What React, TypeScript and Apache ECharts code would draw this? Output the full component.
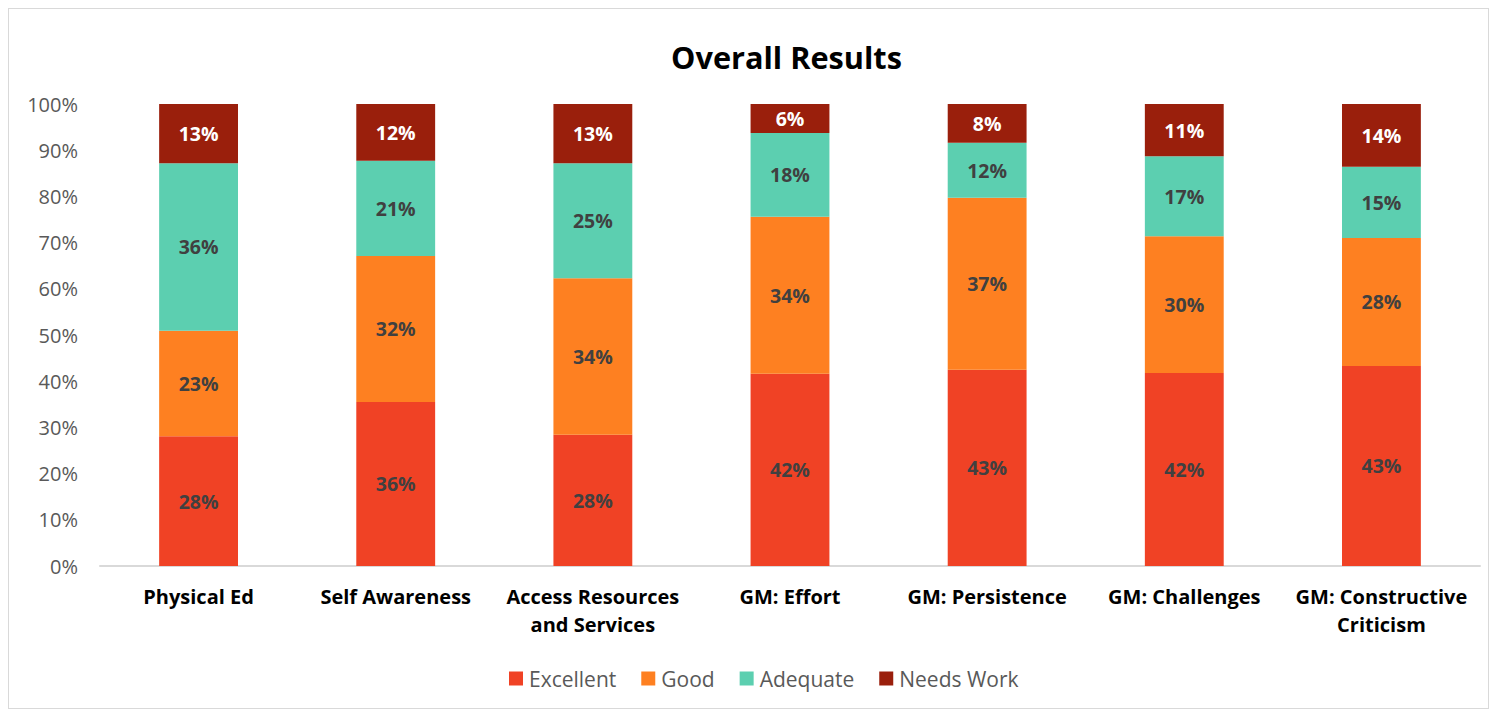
import React, { useEffect, useRef } from "react";
import * as echarts from "echarts";

const categories = [
  "Physical Ed",
  "Self Awareness",
  "Access Resources\nand Services",
  "GM: Effort",
  "GM: Persistence",
  "GM: Challenges",
  "GM: Constructive\nCriticism",
];
const excellent = [28.1, 35.5, 28.4, 41.6, 42.5, 41.8, 43.3];
const good = [22.8, 31.6, 33.9, 34.0, 37.2, 29.6, 27.7];
const adequate = [36.3, 20.6, 24.9, 18.1, 11.9, 17.3, 15.4];
const needsWork = [12.8, 12.3, 12.8, 6.3, 8.4, 11.3, 13.6];
const yTicks = [0, 10, 20, 30, 40, 50, 60, 70, 80, 90, 100];

const FONT = "'Open Sans', 'Noto Sans', sans-serif";

export default function App() {
  const ref = useRef<HTMLDivElement>(null);
  useEffect(() => {
    if (!ref.current) return;
    const chart = echarts.init(ref.current, null, { renderer: "svg" });
    const mk = (name: string, data: number[], color: string, labelColor: string) => ({
      name,
      type: "bar",
      stack: "total",
      data,
      barWidth: "40%",
      itemStyle: { color },
      label: {
        show: true,
        position: "inside",
        formatter: (p: any) => Math.round(p.value) + "%",
        color: labelColor,
        fontFamily: FONT,
        fontWeight: "bold",
        fontSize: 19.5,
      },
    });
    chart.setOption({
      animation: false,
      textStyle: { fontFamily: FONT },
      title: {
        text: "Overall Results",
        left: 657,
        top: 27,
        textStyle: { fontFamily: FONT, fontWeight: "bold", fontSize: 30.7, color: "#000" },
      },
      legend: {
        left: 495,
        top: 654,
        itemWidth: 14,
        itemHeight: 14,
        itemGap: 25,
        icon: "rect",
        textStyle: { fontFamily: FONT, fontSize: 21, color: "#595959", padding: [0, 0, 0, 1] },
        data: ["Excellent", "Good", "Adequate", "Needs Work"],
      },
      grid: { left: 91, right: 8, top: 95, bottom: 142, containLabel: false },
      xAxis: {
        type: "category",
        data: categories,
        axisLine: { lineStyle: { color: "#d9d9d9", width: 2 } },
        axisTick: { show: false },
        axisLabel: {
          fontFamily: FONT,
          fontWeight: "bold",
          fontSize: 20,
          color: "#000",
          lineHeight: 28,
          margin: 16,
          interval: 0,
        },
      },
      yAxis: {
        type: "value",
        min: 0,
        max: 100,
        interval: 10,
        splitLine: { show: false },
        axisLine: { show: false },
        axisTick: { show: false },
        axisLabel: {
          fontFamily: FONT,
          fontSize: 20,
          color: "#595959",
          margin: 22,
          formatter: (v: number) => (yTicks.includes(v) ? v + "%" : ""),
        },
      },
      series: [
        mk("Excellent", excellent, "#F04225", "#404040"),
        mk("Good", good, "#FE8021", "#404040"),
        mk("Adequate", adequate, "#5CCFB0", "#404040"),
        mk("Needs Work", needsWork, "#9A1F0C", "#FFFFFF"),
      ],
    });
    return () => chart.dispose();
  }, []);
  return (
    <div style={{ width: 1481, height: 701, border: "1px solid #d9d9d9", boxSizing: "border-box" }}>
      <div ref={ref} style={{ width: 1479, height: 699 }} />
    </div>
  );
}
